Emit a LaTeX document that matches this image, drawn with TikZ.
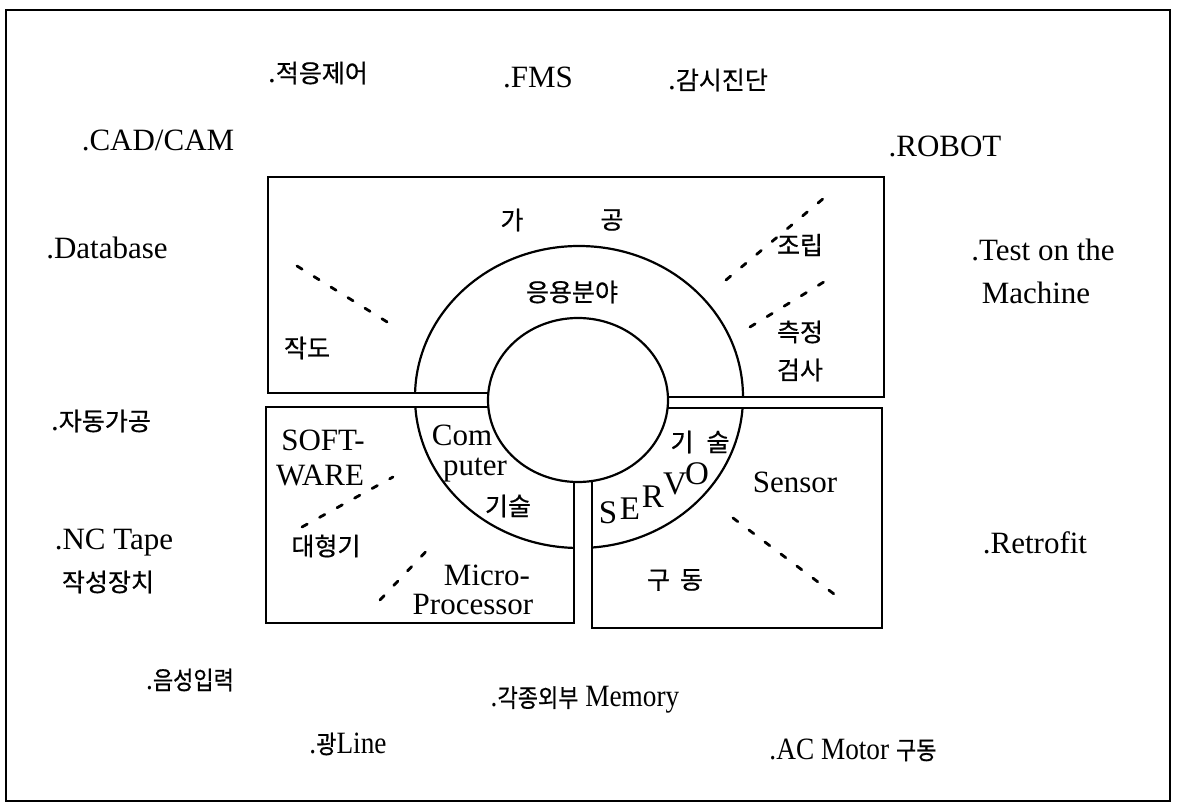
\documentclass[tikz,border=0pt]{standalone}
\usepackage{fontspec}
\setmainfont{Liberation Serif}
\newfontfamily\kr[FakeBold=0.6]{Noto Sans CJK KR}
\newcommand{\kt}[1]{{\kr\fontsize{12.5}{14}\selectfont #1}}
\begin{document}
\begin{tikzpicture}[x=0.5pt,y=-0.5pt,
  lat/.style={inner sep=0pt, font=\fontsize{15.5}{18}\selectfont},
  kor/.style={inner sep=0pt, font=\kr\fontsize{12.5}{14}\selectfont},
  narrow/.style={xscale=0.88},
  servo/.style={inner sep=0pt, font=\fontsize{16.5}{18}\selectfont},
  frameline/.style={line width=0.9pt},
  boxline/.style={line width=1.3pt},
  ringline/.style={line width=1.1pt},
  dashline/.style={line width=1.4pt, dash pattern=on 3pt off 7pt, line cap=round}]
\useasboundingbox (0,0) rectangle (1179,807);
% outer frame
\draw[frameline] (6,10) rectangle (1170,801);
% outer ring
\draw[ringline] (579,397) ellipse [x radius=164, y radius=151];
% erase ring inside channels
\fill[white] (255,393.8) rectangle (580,406.2);
\fill[white] (578,397.8) rectangle (895,407.2);
\fill[white] (574.8,400) rectangle (591.2,640);
% boxes
\draw[boxline] (578,393) -- (268,393) -- (268,177) -- (884,177) -- (884,397) -- (578,397);
\draw[boxline] (578,407) -- (266,407) -- (266,623) -- (574,623) -- (574,400);
\draw[boxline] (578,408) -- (882,408) -- (882,628) -- (592,628) -- (592,400);
% inner circle
\draw[ringline, fill=white] (578,400) ellipse [x radius=90, y radius=82];
% dashed lines
\draw[dashline] (297,266) -- (392,325);
\draw[dashline] (726,280) -- (824,198);
\draw[dashline] (750,327) -- (832,277);
\draw[dashline] (302,527) -- (393,477);
\draw[dashline] (380,600) -- (434,543);
\draw[dashline] (733,518) -- (838,597);
% outside labels
\node[lat] (jeog) at (318,73) {.\kt{적응제어}};
\node[lat] (fms) at (538,77) {.FMS};
\node[lat] (gam) at (718,80) {.\kt{감시진단}};
\node[lat] (cad) at (158,140) {.CAD/CAM};
\node[lat] (robot) at (945,146) {.ROBOT};
\node[lat] (db) at (107,248) {.Database};
\node[lat] (test) at (1043,250) {.Test on the};
\node[lat] (mach) at (1036,293) {Machine};
\node[lat] (jadong) at (101,421) {.\kt{자동가공}};
\node[lat] (nc) at (114,543) {.NC Tape};
\node[kor] (jakseong) at (108,582) {작성장치};
\node[lat] (retro) at (1035,543) {.Retrofit};
\node[lat, narrow] (eum) at (190,680) {.\kt{음성입력}};
\node[lat, narrow] (mem) at (585,700) {.\kt{각종외부} Memory};
\node[lat, narrow] (gwang) at (348,744) {.\kt{광}Line};
\node[lat, narrow] (ac) at (853,750) {.AC Motor \kt{구동}};
% top box labels
\node[kor] (ga) at (512,220) {가};
\node[kor] (gong) at (612,220) {공};
\node[kor] (eung) at (572,292) {응용분야};
\node[kor] (jakdo) at (307,348) {작도};
\node[kor] (jorip) at (800,245) {조립};
\node[kor] (cheuk) at (800,332) {측정};
\node[kor] (geomsa) at (800,370) {검사};
% lower left labels
\node[lat] (soft) at (323,440) {SOFT-};
\node[lat] (ware) at (320,476) {WARE};
\node[kor] (daehyeong) at (326,546) {대형기};
\node[lat] (com) at (462,435) {Com};
\node[lat] (puter) at (475,470) {puter};
\node[kor] (gisul1) at (508,506) {기술};
\node[lat] (micro) at (487,575) {Micro-};
\node[lat] (proc) at (473,605) {Processor};
% lower right labels
\node[kor] (gi2) at (682,442) {기};
\node[kor] (sul2) at (718,442) {술};
\node[servo] (s) at (608,513) {S};
\node[servo] (e) at (630,509) {E};
\node[servo] (r) at (653,497) {R};
\node[servo] (v) at (675,484) {V};
\node[servo] (o) at (697,474) {O};
\node[lat] (sensor) at (795,482) {Sensor};
\node[kor] (gudong) at (675,580) {구\hspace{5pt}동};
\end{tikzpicture}
\end{document}
